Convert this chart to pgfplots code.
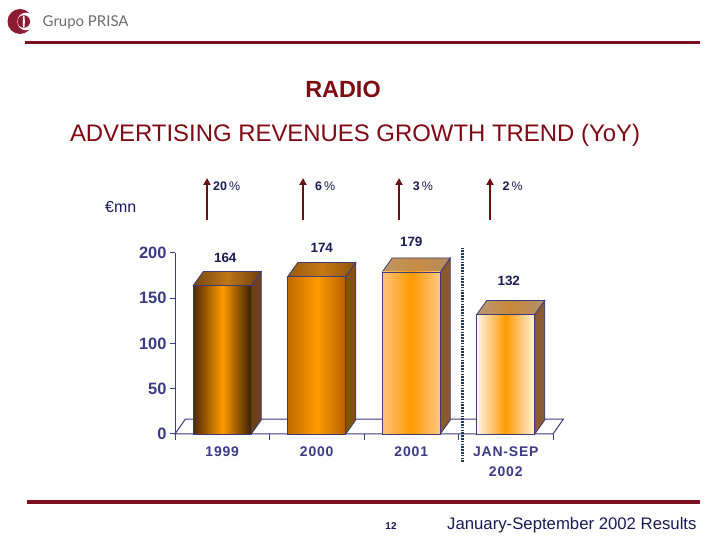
\documentclass[border=0pt]{standalone}
\usepackage{fontspec}
\setmainfont{Liberation Sans}
\newfontfamily\logofont{Lato}
\usepackage{pgfplots}
\pgfplotsset{compat=1.18}
\usetikzlibrary{arrows.meta}
\definecolor{darkred}{HTML}{7A1020}
\definecolor{titlered}{HTML}{7F0A14}
\definecolor{axiscol}{HTML}{3A3A85}
\definecolor{navy}{HTML}{1A1A55}
\definecolor{barline}{HTML}{3C3C78}
\definecolor{arrowred}{HTML}{6B0F14}
\definecolor{dotcol}{HTML}{1F3A5A}
\definecolor{logored}{HTML}{8C1C34}
\newcommand{\pct}[1]{\textbf{#1}\,{\fontsize{12.5}{14}\selectfont\%}}
\begin{document}
\begin{tikzpicture}[x=1bp,y=1bp]
\path[use as bounding box, fill=white] (0,0) rectangle (720,540);
% logo
\fill[logored] (20,518.5) circle (12.5);
\fill[white] (26,518.5) circle (8.8);
\fill[logored] (23.8,518.5) circle (6.3);
\fill[white] (23.8,518.5) ellipse (1 and 6.8);
\node[anchor=base west, inner sep=0, text=gray!85!black, font=\logofont\fontsize{15}{18}\selectfont] at (42.5,513.5) {Grupo PRISA};
\draw[darkred, line width=3bp] (25,497) -- (700,497);
\draw[darkred, line width=3.5bp] (27,38) -- (700,38);
% titles
\node[anchor=base, inner sep=0, text=titlered, font=\fontsize{23.5}{26}\selectfont\bfseries] at (343,442) {RADIO};
\node[anchor=base, inner sep=0, text=titlered, font=\fontsize{24}{26}\selectfont] at (355,398) {ADVERTISING REVENUES GROWTH TREND (YoY)};
\node[anchor=base west, inner sep=0, text=navy, font=\fontsize{16}{18}\selectfont] at (105,327.3) {€mn};
% growth arrows
\foreach \x in {207,303,399,490}{
  \draw[arrowred, line width=2bp, -{Triangle[width=7bp,length=7bp]}] (\x,320) -- (\x,362);
}
\node[anchor=base west, inner sep=0, text=navy, font=\fontsize{12.5}{14}\selectfont] at (213,349.3) {\pct{20}};
\node[anchor=base west, inner sep=0, text=navy, font=\fontsize{12.5}{14}\selectfont] at (315,349.3) {\pct{6}};
\node[anchor=base west, inner sep=0, text=navy, font=\fontsize{12.5}{14}\selectfont] at (412.7,349.3) {\pct{3}};
\node[anchor=base west, inner sep=0, text=navy, font=\fontsize{12.5}{14}\selectfont] at (502.3,349.3) {\pct{2}};
% footer
\node[anchor=base, inner sep=0, text=navy, font=\fontsize{10}{12}\selectfont\bfseries] at (391,10.7) {12};
\node[anchor=base west, inner sep=0, text=navy, font=\fontsize{16.8}{18}\selectfont] at (447,10) {January-September 2002 Results};
\begin{axis}[
  at={(175bp,106bp)}, anchor=south west,
  scale only axis, width=378bp, height=181bp,
  xmin=-0.5, xmax=3.5, ymin=0, ymax=200,
  clip=false,
  axis x line*=bottom, axis y line*=left,
  axis line style={draw=axiscol, line width=1bp},
  xtick={0,1,2,3},
  xticklabels={1999,2000,2001,{JAN-SEP\\2002}},
  minor xtick={-0.5,0.5,1.5,2.5,3.5},
  ytick={0,50,100,150,200},
  tick align=outside,
  major tick length=5bp, minor tick length=6bp,
  tick style={draw=axiscol, line width=1bp},
  every major x tick/.append style={draw=none},
  /pgf/number format/assume math mode=true,
  yticklabel style={font=\fontsize{16.5}{18}\selectfont\bfseries, text=axiscol},
  xticklabel style={font=\fontsize{14}{20}\selectfont\bfseries\addfontfeatures{LetterSpace=6}, text=axiscol, align=center, yshift=-4bp},
]
% floor
\addplot[fill=white, draw=axiscol, line width=1bp] coordinates {(-0.5,0) (-0.39,16.5) (3.61,16.5) (3.5,0)} -- cycle;
% bar 1999
\addplot[fill={rgb,255:red,110;green,64;blue,32}, draw=barline, line width=0.8bp] coordinates {(0.307,0) (0.413,15.5) (0.413,179.5) (0.307,164)} -- cycle;
\addplot[left color={rgb,255:red,120;green,72;blue,14}, right color={rgb,255:red,110;green,64;blue,14}, middle color={rgb,255:red,190;green,118;blue,24}, draw=barline, line width=0.8bp] coordinates {(-0.307,164) (-0.201,179.5) (0.413,179.5) (0.307,164)} -- cycle;
\addplot[ybar, bar width=58bp, bar shift=0pt, draw=barline, line width=0.8bp,
  left color={rgb,255:red,78;green,40;blue,0}, right color={rgb,255:red,58;green,30;blue,0}, middle color={rgb,255:red,255;green,154;blue,0},
  nodes near coords, every node near coord/.append style={anchor=base, inner sep=0, yshift=22.6bp, xshift=3bp, text=navy, font=\fontsize{13.5}{15}\selectfont\bfseries}]
  coordinates {(0,164)};
% bar 2000
\addplot[fill={rgb,255:red,138;green,80;blue,16}, draw=barline, line width=0.8bp] coordinates {(1.307,0) (1.413,15.5) (1.413,189.5) (1.307,174)} -- cycle;
\addplot[left color={rgb,255:red,150;green,90;blue,14}, right color={rgb,255:red,140;green,84;blue,14}, middle color={rgb,255:red,200;green,120;blue,20}, draw=barline, line width=0.8bp] coordinates {(0.693,174) (0.799,189.5) (1.413,189.5) (1.307,174)} -- cycle;
\addplot[ybar, bar width=58bp, bar shift=0pt, draw=barline, line width=0.8bp,
  left color={rgb,255:red,192;green,106;blue,0}, right color={rgb,255:red,184;green,96;blue,0}, middle color={rgb,255:red,255;green,154;blue,0},
  nodes near coords, every node near coord/.append style={anchor=base, inner sep=0, yshift=24.5bp, xshift=5bp, text=navy, font=\fontsize{13.5}{15}\selectfont\bfseries}]
  coordinates {(1,174)};
% bar 2001
\addplot[fill={rgb,255:red,138;green,90;blue,46}, draw=barline, line width=0.8bp] coordinates {(2.307,0) (2.413,15.5) (2.413,194.5) (2.307,179)} -- cycle;
\addplot[left color={rgb,255:red,190;green,150;blue,100}, right color={rgb,255:red,180;green,140;blue,96}, middle color={rgb,255:red,200;green,140;blue,70}, draw=barline, line width=0.8bp] coordinates {(1.693,179) (1.799,194.5) (2.413,194.5) (2.307,179)} -- cycle;
\addplot[ybar, bar width=58bp, bar shift=0pt, draw=barline, line width=0.8bp,
  left color={rgb,255:red,255;green,194;blue,122}, right color={rgb,255:red,255;green,200;blue,136}, middle color={rgb,255:red,255;green,154;blue,0},
  nodes near coords, every node near coord/.append style={anchor=base, inner sep=0, yshift=25bp, xshift=0bp, text=navy, font=\fontsize{13.5}{15}\selectfont\bfseries}]
  coordinates {(2,179)};
% bar JAN-SEP 2002
\addplot[fill={rgb,255:red,138;green,92;blue,52}, draw=barline, line width=0.8bp] coordinates {(3.307,0) (3.413,15.5) (3.413,147.5) (3.307,132)} -- cycle;
\addplot[left color={rgb,255:red,184;green,152;blue,120}, right color={rgb,255:red,176;green,144;blue,112}, middle color={rgb,255:red,200;green,136;blue,56}, draw=barline, line width=0.8bp] coordinates {(2.693,132) (2.799,147.5) (3.413,147.5) (3.307,132)} -- cycle;
\addplot[ybar, bar width=58bp, bar shift=0pt, draw=barline, line width=0.8bp,
  left color={rgb,255:red,255;green,244;blue,234}, right color={rgb,255:red,255;green,240;blue,228}, middle color={rgb,255:red,255;green,154;blue,0},
  nodes near coords, every node near coord/.append style={anchor=base, inner sep=0, yshift=29.5bp, xshift=3bp, text=navy, font=\fontsize{13.5}{15}\selectfont\bfseries}]
  coordinates {(3,132)};
% separator
\draw[dotcol, line width=3bp, dash pattern=on 1.6bp off 1.2bp] (axis cs:2.54,-31) -- (axis cs:2.54,206.6);
\end{axis}
\end{tikzpicture}
\end{document}
